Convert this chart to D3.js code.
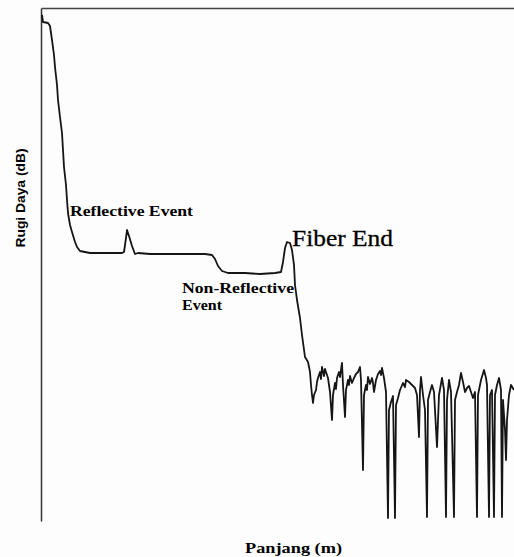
<!DOCTYPE html>
<html>
<head>
<meta charset="utf-8">
<script src="https://cdn.jsdelivr.net/npm/d3@7"></script>
<style>
  body { margin: 0; background: #fdfdfd; }
  svg { display: block; }
</style>
</head>
<body>
<svg id="chart" width="514" height="557"></svg>
<script>
// OTDR trace, distance (m) vs loss (dB)
var distance = [1, 2, 7, 9, 11, 13, 14, 16, 17, 19, 21, 22, 23, 25, 26, 27, 29, 31, 34, 36, 39, 49, 69, 81, 83, 85, 86, 88, 91, 94, 97,
  109, 129, 149, 164, 171, 174, 177, 181, 187, 204, 219, 234, 240, 242, 244, 246, 249, 251, 253, 254, 256, 259, 261, 264, 267, 269,
  270, 271, 272, 273, 275, 276, 277, 279, 280, 281, 283, 284, 285, 287, 289, 291, 292, 294, 295, 296, 298, 299, 301, 302, 304, 305, 307, 308, 309, 311, 313, 315,
  317, 319, 320, 322, 323, 325, 326, 327, 329, 331, 332, 333, 335, 337, 339, 340, 341, 343, 345, 347, 348, 350, 352, 354, 355, 357, 359, 362, 364, 365,
  368, 371, 374, 376, 378, 379, 380, 382, 384, 386, 387, 389, 391, 393, 396, 398, 401, 403, 405, 406, 408, 410, 413, 414, 416, 418,
  420, 422, 424, 426, 428, 430, 432, 434, 436, 437, 440, 443, 445, 446, 448, 449, 451, 453, 454, 456, 458, 460, 461, 462, 464, 465,
  466, 468, 470, 473];
var loss = [50.6, 49.9, 49.8, 49.5, 48.1, 46.6, 45.4, 43.6, 42.1, 40.4, 38.8, 37.1, 35.4, 33.6, 32.1, 30.8, 29.6, 28.9, 27.9, 27.4, 27.0, 26.8, 26.8, 26.8, 26.9, 28.3, 29.1, 28.5, 27.5, 26.7, 26.8,
  26.7, 26.7, 26.7, 26.7, 26.6, 26.2, 25.5, 25.0, 24.8, 24.8, 24.7, 24.8, 24.9, 25.9, 27.3, 27.9, 27.8, 27.1, 25.6, 23.6, 22.1, 20.3, 18.6, 16.4, 15.9, 14.9,
  13.6, 12.6, 11.8, 12.6, 13.1, 13.9, 14.3, 14.9, 14.2, 15.4, 14.5, 15.2, 14.9, 14.3, 12.9, 10.1, 12.6, 13.8, 13.2, 14.3, 14.9, 14.4, 15.8, 13.6, 10.4, 13.1, 14.1, 13.6, 14.5, 13.8, 14.3, 14.7,
  14.9, 15.4, 14.1, 5.1, 12.6, 13.6, 13.1, 14.4, 13.7, 14.3, 13.8, 12.9, 14.1, 14.7, 15.0, 14.6, 15.3, 14.3, 12.9, 0.3, 11.1, 11.9, 12.5, 0.3, 11.6, 12.3, 13.1, 13.8, 13.4, 14.1,
  13.9, 13.6, 13.3, 12.6, 8.4, 13.1, 14.4, 12.6, 11.1, 0.4, 12.1, 12.9, 13.6, 12.9, 7.4, 12.6, 14.3, 13.1, 0.4, 12.1, 14.1, 12.9, 0.4, 12.1, 12.9, 13.6,
  14.8, 13.9, 12.9, 13.3, 13.5, 12.9, 12.3, 12.9, 0.4, 12.6, 14.1, 15.1, 14.3, 13.6, 0.4, 12.6, 13.1, 0.4, 12.6, 13.6, 14.3, 13.1, 0.4, 12.1, 9.1, 6.1,
  10.1, 12.6, 13.6, 13.1];

var xLabel = "Panjang (m)";
var yLabel = "Rugi Daya (dB)";

const svg = d3.select('#chart');

const x = d3.scaleLinear().domain([0, 473]).range([41, 514]);
const y = d3.scaleLinear().domain([0, 51.3]).range([521, 8]);

// frame: left and top only
svg.append('g')
  .attr('transform', 'translate(' + x(0) + ',0)')
  .call(d3.axisLeft(y).ticks(0).tickSizeOuter(0))
  .select('.domain')
  .attr('stroke', '#333')
  .attr('stroke-width', 1.5);

svg.append('g')
  .attr('transform', 'translate(0,' + y(51.3) + ')')
  .call(d3.axisTop(x).ticks(0).tickSizeOuter(0))
  .select('.domain')
  .attr('stroke', '#444')
  .attr('stroke-width', 1.5);

const trace = distance.map((d, i) => ({ d: d, v: loss[i] }));

svg.append('path')
  .datum(trace)
  .attr('fill', 'none')
  .attr('stroke', '#151515')
  .attr('stroke-width', 1.8)
  .attr('stroke-linejoin', 'round')
  .attr('d', d3.line().x((d) => x(d.d)).y((d) => y(d.v)));

// annotations
const serif = '"Liberation Serif", "Times New Roman", serif';

svg.append('text')
  .attr('x', 70).attr('y', 216)
  .attr('font-family', serif).attr('font-weight', 'bold').attr('font-size', 14)
  .attr('textLength', 123).attr('lengthAdjust', 'spacingAndGlyphs')
  .text('Reflective Event');

svg.append('text')
  .attr('x', 292).attr('y', 246)
  .attr('font-family', serif).attr('font-size', 23)
  .attr('stroke', '#000').attr('stroke-width', 0.3)
  .attr('textLength', 101).attr('lengthAdjust', 'spacingAndGlyphs')
  .text('Fiber End');

svg.append('text')
  .attr('x', 182).attr('y', 293)
  .attr('font-family', serif).attr('font-weight', 'bold').attr('font-size', 14)
  .attr('textLength', 112).attr('lengthAdjust', 'spacingAndGlyphs')
  .text('Non-Reflective');

svg.append('text')
  .attr('x', 182).attr('y', 310)
  .attr('font-family', serif).attr('font-weight', 'bold').attr('font-size', 14)
  .attr('textLength', 40).attr('lengthAdjust', 'spacingAndGlyphs')
  .text('Event');

svg.append('text')
  .attr('x', 245).attr('y', 553)
  .attr('font-family', serif).attr('font-weight', 'bold').attr('font-size', 15)
  .attr('textLength', 97).attr('lengthAdjust', 'spacingAndGlyphs')
  .text(xLabel);

svg.append('text')
  .attr('transform', 'translate(25,198) rotate(-90)')
  .attr('text-anchor', 'middle')
  .attr('font-family', '"Liberation Sans", Arial, sans-serif').attr('font-weight', 'bold').attr('font-size', 13)
  .attr('textLength', 99).attr('lengthAdjust', 'spacingAndGlyphs')
  .text(yLabel);
</script>
</body>
</html>
